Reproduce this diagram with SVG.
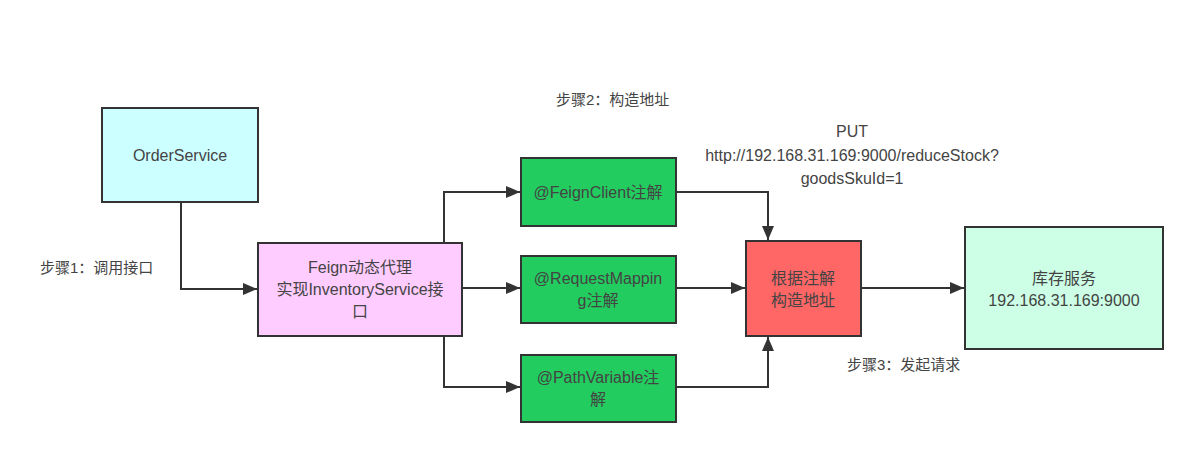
<svg xmlns="http://www.w3.org/2000/svg" width="1198" height="471" viewBox="0 0 1198 471">
<defs>
<marker id="arr" viewBox="0 0 14 12" refX="14" refY="6" markerWidth="14" markerHeight="12" markerUnits="userSpaceOnUse" orient="auto">
<path d="M0,0 L14,6 L0,12 z" fill="#333"/>
</marker>
<style>
.box{stroke:#333;stroke-width:2}
.t{font-family:"Liberation Sans","Noto Sans CJK SC",sans-serif;font-size:16px;fill:#444;text-anchor:middle}
.l{font-family:"Liberation Sans","Noto Sans CJK SC",sans-serif;font-size:15px;fill:#444}
.c{fill:none;stroke:#333;stroke-width:2;marker-end:url(#arr)}
</style>
</defs>
<rect width="1198" height="471" fill="#fff"/>
<g id="connectors">
<path class="c" d="M181,202 V289 H257"/>
<path class="c" d="M444,243 V192 H520"/>
<path class="c" d="M462,288 H520"/>
<path class="c" d="M444,336 V387 H520"/>
<path class="c" d="M676,192 H768 V240"/>
<path class="c" d="M676,288 H745"/>
<path class="c" d="M676,387 H768 V337"/>
<path class="c" d="M861,288 H964"/>
</g>
<g id="orderService">
<rect class="box" x="102" y="108" width="156" height="94" fill="#ccffff"/>
<text class="t" x="180" y="161">OrderService</text>
</g>
<g id="feign">
<rect class="box" x="258" y="243" width="204" height="93" fill="#ffccff"/>
<text class="t" x="360" y="273">Feign动态代理</text>
<text class="t" x="360" y="295">实现InventoryService接</text>
<text class="t" x="360" y="317">口</text>
</g>
<g id="feignClient">
<rect class="box" x="521" y="158" width="155" height="68" fill="#22cc5e"/>
<text class="t" x="598" y="198">@FeignClient注解</text>
</g>
<g id="requestMapping">
<rect class="box" x="521" y="256" width="155" height="67" fill="#22cc5e"/>
<text class="t" x="598" y="284">@RequestMappin</text>
<text class="t" x="598" y="306">g注解</text>
</g>
<g id="pathVariable">
<rect class="box" x="521" y="355" width="155" height="67" fill="#22cc5e"/>
<text class="t" x="598" y="383">@PathVariable注</text>
<text class="t" x="598" y="405">解</text>
</g>
<g id="buildAddress">
<rect class="box" x="746" y="241" width="115" height="95" fill="#ff6666"/>
<text class="t" x="803" y="284">根据注解</text>
<text class="t" x="803" y="306">构造地址</text>
</g>
<g id="inventory">
<rect class="box" x="965" y="227" width="198" height="122" fill="#ccffe6"/>
<text class="t" x="1064" y="284">库存服务</text>
<text class="t" x="1064" y="306">192.168.31.169:9000</text>
</g>
<g id="labels">
<text class="l" x="40" y="273">步骤1：调用接口</text>
<text class="l" x="556" y="105">步骤2：构造地址</text>
<text class="t" x="852" y="137">PUT</text>
<text class="t" x="852" y="161">http://192.168.31.169:9000/reduceStock?</text>
<text class="t" x="852" y="184">goodsSkuId=1</text>
<text class="l" x="847" y="370">步骤3：发起请求</text>
</g>
</svg>
